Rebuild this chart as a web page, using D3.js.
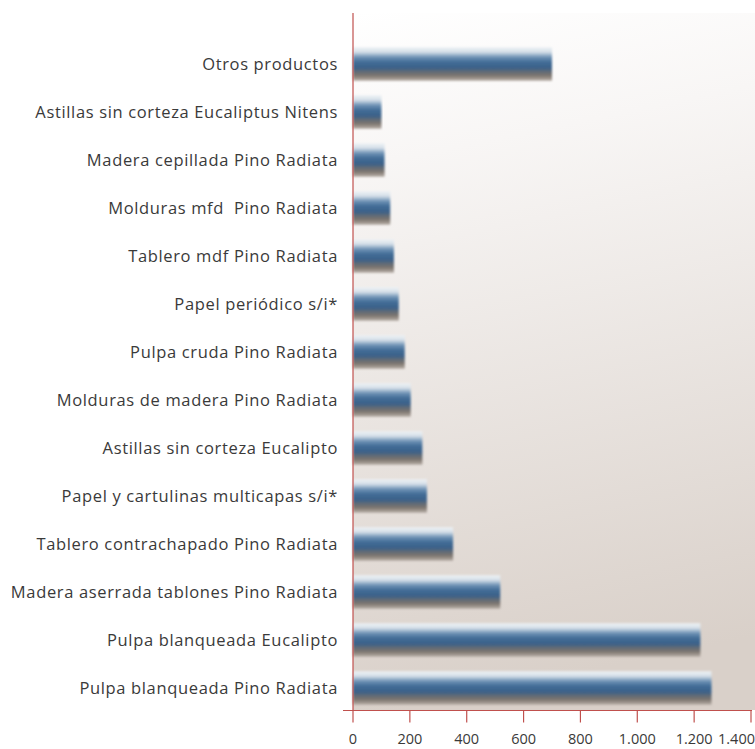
<!DOCTYPE html>
<html>
<head>
<meta charset="utf-8">
<script src="https://cdn.jsdelivr.net/npm/d3@7"></script>
<style>
    body { margin: 0; background: #fff; }
    .co-label { font-family: 'Open Sans', sans-serif; font-size: 16.5px; letter-spacing: 0.65px; fill: #3a3a3a; white-space: pre; }
    .co-tick text { font-family: 'Open Sans', sans-serif; font-size: 14.5px; fill: #3a3a3a; }
</style>
</head>
<body>
<svg class="co-svg"></svg>
<script>

const categories = [
    'Otros productos',
    'Astillas sin corteza Eucaliptus Nitens',
    'Madera cepillada Pino Radiata',
    'Molduras mfd  Pino Radiata',
    'Tablero mdf Pino Radiata',
    'Papel periódico s/i*',
    'Pulpa cruda Pino Radiata',
    'Molduras de madera Pino Radiata',
    'Astillas sin corteza Eucalipto',
    'Papel y cartulinas multicapas s/i*',
    'Tablero contrachapado Pino Radiata',
    'Madera aserrada tablones Pino Radiata',
    'Pulpa blanqueada Eucalipto',
    'Pulpa blanqueada Pino Radiata'
]

const values = [700, 100, 111, 131, 144, 161, 182, 203, 244, 260, 352, 518, 1222, 1261]

const tickValues = [0, 200, 400, 600, 800, 1000, 1200, 1400]
const tickLabels = ['0', '200', '400', '600', '800', '1.000', '1.200', '1.400']

const width = 755
const height = 749

const padding = {
    top: 13,
    right: 4,
    bottom: 39,
    left: 353
}

const svg = d3.select('.co-svg')
    .attr('width', width)
    .attr('height', height)

const defs = svg.append('defs')

const bgGrad = defs.append('linearGradient')
    .attr('id', 'co-bg')
    .attr('x1', 0).attr('y1', 0)
    .attr('x2', 0.12).attr('y2', 1)

bgGrad.append('stop').attr('offset', '0%').attr('stop-color', '#ffffff')
bgGrad.append('stop').attr('offset', '22%').attr('stop-color', '#f8f6f5')
bgGrad.append('stop').attr('offset', '100%').attr('stop-color', '#d9d0c9')

const barGrad = defs.append('linearGradient')
    .attr('id', 'co-bar')
    .attr('x1', 0).attr('y1', 0)
    .attr('x2', 0).attr('y2', 1)

const barStops = [
    [0, '#eef2f5'],
    [0.14, '#d6e0e9'],
    [0.3, '#6d91b4'],
    [0.45, '#416c96'],
    [0.62, '#3c6189'],
    [0.72, '#5e6a76'],
    [0.85, '#7f7770'],
    [1, '#b8afa8']
]

barStops.forEach(s => {
    barGrad.append('stop')
        .attr('offset', s[0])
        .attr('stop-color', s[1])
})

defs.append('filter')
    .attr('id', 'co-soft')
    .attr('x', '-5%').attr('y', '-20%')
    .attr('width', '110%').attr('height', '140%')
    .append('feGaussianBlur')
    .attr('stdDeviation', 0.9)

const xScale = d3.scaleLinear()
    .domain([ 0, 1400 ])
    .range([ padding.left, 751 ])

const yScale = d3.scaleBand()
    .domain(categories)
    .range([ 38, height - padding.bottom ])
    .paddingInner(0.3)
    .paddingOuter(0.15)

// plot background
svg.append('rect')
    .attr('x', padding.left)
    .attr('y', padding.top)
    .attr('width', width - padding.left)
    .attr('height', height - padding.bottom - padding.top)
    .attr('fill', 'url(#co-bg)')

// bars
svg.selectAll('blah')
    .data(values)
    .enter()
    .append('rect')
    .attr('x', xScale(0))
    .attr('y', (d, i) => yScale(categories[i]) + 2)
    .attr('width', d => xScale(d) - xScale(0))
    .attr('height', yScale.bandwidth())
    .attr('fill', 'url(#co-bar)')
    .attr('filter', 'url(#co-soft)')

// category labels
svg.selectAll('blah')
    .data(categories)
    .enter()
    .append('text')
    .attr('class', 'co-label')
    .attr('x', 338)
    .attr('y', d => yScale(d) + yScale.bandwidth()/2 + 2)
    .attr('dy', '0.35em')
    .attr('text-anchor', 'end')
    .text(d => d)

// axes
const axisColor = '#c0504d'
const baseY = height - padding.bottom + 0.5

svg.append('line')
    .attr('x1', 343)
    .attr('x2', width - 3)
    .attr('y1', baseY)
    .attr('y2', baseY)
    .attr('stroke', axisColor)
    .attr('stroke-width', 1.2)

svg.append('line')
    .attr('x1', xScale(0))
    .attr('x2', xScale(0))
    .attr('y1', padding.top)
    .attr('y2', baseY)
    .attr('stroke', axisColor)
    .attr('stroke-width', 1.2)

const tickGs = svg.selectAll('blah')
    .data(tickValues)
    .enter()
    .append('g')
    .attr('class', 'co-tick')
    .attr('transform', d => `translate(${xScale(d)}, ${baseY})`)

tickGs.append('line')
    .attr('y1', 0)
    .attr('y2', 12)
    .attr('stroke', axisColor)
    .attr('stroke-width', 1.2)

// last label is pushed in so it stays inside the frame
const lastIdx = tickValues.length - 1

tickGs.append('text')
    .attr('x', (d, i) => i === lastIdx ? width - xScale(d) : 0)
    .attr('y', 28)
    .attr('dy', '0.35em')
    .attr('text-anchor', (d, i) => i === lastIdx ? 'end' : 'middle')
    .text((d, i) => tickLabels[i])

</script>
</body>
</html>
